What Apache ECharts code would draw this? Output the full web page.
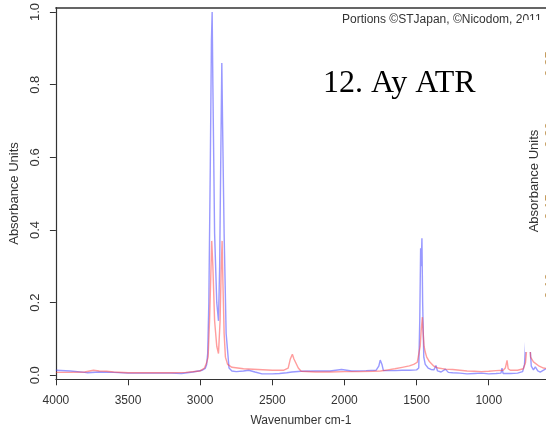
<!DOCTYPE html>
<html>
<head>
<meta charset="utf-8">
<script src="https://cdn.jsdelivr.net/npm/echarts@6/dist/echarts.min.js"></script>
<style>html,body{margin:0;padding:0;background:#fff}#c{width:546px;height:434px}</style>
</head>
<body>
<div id="c"></div>
<script>
// Blue spectrum (wavenumber cm-1, absorbance)
const blueWave = [4000,3900,3800,3780,3700,3600,3500,3400,3300,3200,3130,3050,2985,2965,2955,2948,2940,2930,2922,2917,2912,2900,2885,2873,2865,2858,2850,2845,2834,2820,2800,2780,2750,2700,2664,2620,2571,2500,2450,2400,2364,2300,2200,2100,2020,1950,1850,1780,1762,1752,1747,1740,1730,1700,1650,1600,1550,1500,1485,1478,1472,1468,1463,1458,1450,1440,1420,1400,1380,1366,1355,1330,1300,1280,1250,1200,1150,1100,1050,1000,950,915,908,900,850,800,765,752,740,730,725,720,714,705,690,677,660,643,620,603];
const blueAbs  = [0.014,0.012,0.008,0.007,0.009,0.008,0.006,0.006,0.006,0.006,0.005,0.009,0.014,0.019,0.03,0.06,0.2,0.57,0.92,1.0,0.8,0.39,0.2,0.15,0.3,0.57,0.86,0.7,0.39,0.115,0.02,0.012,0.01,0.012,0.014,0.009,0.004,0.004,0.005,0.007,0.009,0.011,0.012,0.012,0.016,0.012,0.013,0.014,0.025,0.042,0.047,0.03,0.013,0.013,0.013,0.014,0.014,0.015,0.02,0.15,0.35,0.3,0.377,0.2,0.05,0.03,0.02,0.016,0.015,0.027,0.012,0.009,0.017,0.008,0.007,0.006,0.004,0.005,0.006,0.004,0.005,0.006,0.02,0.005,0.005,0.006,0.01,0.03,0.12,0.3,0.25,0.28,0.08,0.025,0.015,0.023,0.012,0.009,0.014,0.018];
// Red spectrum (wavenumber cm-1, absorbance)
const redWave = [4000,3900,3800,3740,3700,3650,3600,3500,3400,3300,3200,3100,3000,2970,2955,2945,2935,2928,2920,2912,2900,2885,2873,2862,2855,2848,2842,2834,2825,2810,2780,2700,2600,2500,2420,2390,2375,2361,2350,2338,2320,2300,2200,2100,2000,1900,1800,1750,1700,1650,1600,1550,1520,1495,1485,1475,1468,1460,1455,1448,1440,1430,1410,1380,1350,1300,1250,1200,1150,1100,1050,1000,950,900,885,873,865,850,800,760,745,735,730,720,710,690,650,620,603];
const redAbs  = [0.008,0.008,0.009,0.014,0.012,0.011,0.009,0.007,0.007,0.007,0.007,0.008,0.012,0.02,0.035,0.05,0.15,0.25,0.37,0.3,0.15,0.08,0.06,0.15,0.28,0.37,0.25,0.115,0.05,0.03,0.022,0.018,0.016,0.014,0.014,0.02,0.045,0.058,0.045,0.041,0.02,0.011,0.009,0.009,0.01,0.01,0.011,0.012,0.015,0.018,0.022,0.026,0.03,0.036,0.04,0.08,0.124,0.16,0.12,0.08,0.064,0.05,0.037,0.025,0.02,0.017,0.016,0.014,0.012,0.011,0.01,0.011,0.013,0.014,0.02,0.041,0.018,0.014,0.014,0.018,0.035,0.08,0.15,0.14,0.05,0.037,0.025,0.02,0.019];
const xTicks = [4000,3500,3000,2500,2000,1500,1000];
const yTicks = [0,0.2,0.4,0.6,0.8,1.0];
const sideLabels = ['0.25','0.20','0.15','0.10'];
const sideLabelY = [64,135,207,286];

const pairs = (w, a) => w.map((x, i) => [x, a[i]]);
const font = "'Liberation Sans', Arial, sans-serif";
const axisCol = '#333';

const chart = echarts.init(document.getElementById('c'), null, {renderer: 'canvas'});
const graphics = [
  {type: 'text', left: 342, top: 14, z: 50, style: {text: 'Portions ©STJapan, ©Nicodom, 2011', fill: '#333', font: '12px ' + font}},
  {type: 'text', left: 323, top: 68, z: 50, style: {text: '12. Ay ATR', fill: '#000', font: '32px "Liberation Serif", "Times New Roman", serif'}},
  {type: 'rect', z: 60, shape: {x: 523.5, y: 20, width: 24, height: 60}, style: {fill: '#fff'}},
  {type: 'rect', z: 60, shape: {x: 525, y: 20, width: 22, height: 332}, style: {fill: '#fff'}},
  {type: 'text', z: 70, x: 534, y: 181, rotation: Math.PI / 2, style: {text: 'Absorbance Units', fill: '#333', font: '13px ' + font, align: 'center', verticalAlign: 'middle'}}
];
sideLabels.forEach((t, i) => graphics.push({type: 'text', z: 70, x: 550, y: sideLabelY[i], rotation: Math.PI / 2, style: {text: t, fill: '#c49a5a', font: '13px ' + font, align: 'center', verticalAlign: 'middle'}}));

chart.setOption({
  animation: false,
  backgroundColor: '#fff',
  grid: {left: 52.7, right: 0, top: 7.3, bottom: 54.7, containLabel: false},
  xAxis: [{
    type: 'value', inverse: true, min: 603, max: 4000, position: 'bottom',
    axisLine: {show: true, onZero: false, lineStyle: {color: axisCol, width: 1.2}},
    axisTick: {show: true, length: 6, customValues: xTicks, lineStyle: {color: axisCol}},
    axisLabel: {customValues: xTicks, color: axisCol, fontSize: 12, fontFamily: font, margin: 15,
      formatter: v => String(v)},
    splitLine: {show: false},
    name: 'Wavenumber cm-1', nameLocation: 'middle', nameGap: 35,
    nameTextStyle: {color: axisCol, fontSize: 12, fontFamily: font}
  }, {
    type: 'value', inverse: true, min: 603, max: 4000, position: 'top',
    axisLine: {show: true, onZero: false, lineStyle: {color: axisCol, width: 1.5}},
    axisTick: {show: false}, axisLabel: {show: false}, splitLine: {show: false}
  }],
  yAxis: {
    type: 'value', min: -0.011, max: 1.012,
    axisLine: {show: true, onZero: false, lineStyle: {color: axisCol, width: 1.2}},
    axisTick: {show: true, length: 6, customValues: yTicks, lineStyle: {color: axisCol}},
    axisLabel: {customValues: yTicks, rotate: 90, color: axisCol, fontSize: 13, fontFamily: font, margin: 14,
      formatter: v => v.toFixed(1)},
    splitLine: {show: false},
    name: 'Absorbance Units', nameLocation: 'middle', nameGap: 30,
    nameTextStyle: {color: axisCol, fontSize: 13, fontFamily: font}
  },
  series: [{
    type: 'line', xAxisIndex: 0, data: pairs(blueWave, blueAbs), showSymbol: false, silent: true,
    lineStyle: {color: 'rgba(70,70,255,0.55)', width: 1.4}
  }, {
    type: 'line', xAxisIndex: 0, data: pairs(redWave, redAbs), showSymbol: false, silent: true,
    lineStyle: {color: 'rgba(255,60,60,0.5)', width: 1.4}
  }],
  graphic: graphics
});
</script>
</body>
</html>
